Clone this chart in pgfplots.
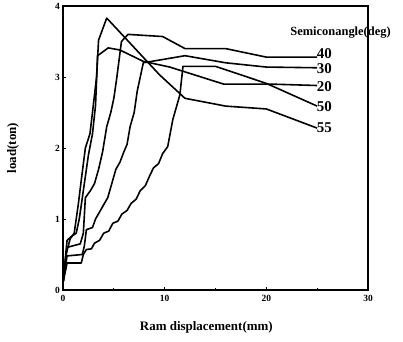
\documentclass[border=0pt]{standalone}
\usepackage{fontspec}
\setmainfont{Liberation Serif}
\usepackage{pgfplots}
\pgfplotsset{compat=1.18}
\begin{document}
\begin{tikzpicture}
\useasboundingbox (-63bp,-52bp) rectangle (340bp,290bp);
\begin{axis}[
  at={(0,0)}, anchor=south west,
  width=305bp, height=284bp, scale only axis,
  xmin=0, xmax=30, ymin=0, ymax=4,
  xtick={0,10,20,30}, ytick={0,1,2,3,4},
  minor xtick={5,15,25},
  xtick pos=bottom, ytick pos=left,
  tick align=inside,
  major tick length=3bp, minor tick length=2bp,
  line width=1.5pt,
  every tick/.style={black, line width=0.8pt},
  /pgf/number format/assume math mode=true,
  tick label style={font=\bfseries\fontsize{9.5}{10}\selectfont},
  xticklabel style={yshift=-1bp},
  yticklabel style={xshift=1bp},
  xlabel={\bfseries Ram displacement(mm)},
  ylabel={\bfseries load(ton)},
  label style={font=\bfseries\fontsize{13}{14}\selectfont},
  xlabel style={at={(axis description cs:0.47,0)}, anchor=center, yshift=-37bp},
  ylabel style={at={(axis description cs:0,0.5)}, anchor=center, yshift=50bp},
  clip=false,
  pl/.style={black, line width=1.6pt, line join=round, mark=none},
]
% 40
\addplot[pl] coordinates {(0,0.1)(0.4,0.6)(1.7,0.65)(2.0,0.8)(2.2,1.3)(2.7,1.4)(3.1,1.5)(3.5,1.7)(3.9,1.95)(4.3,2.3)(4.7,2.5)(5.0,2.7)(5.3,3.0)(5.75,3.5)(6.4,3.6)(9.8,3.57)(12,3.4)(16,3.4)(20,3.28)(25,3.28)};
% 30
\addplot[pl] coordinates {(0,0.1)(0.4,0.48)(1.9,0.5)(2.1,0.62)(2.3,0.85)(2.9,0.88)(3.2,1.0)(3.6,1.1)(4.0,1.2)(4.4,1.3)(4.8,1.5)(5.2,1.7)(5.6,1.8)(6.0,1.95)(6.3,2.05)(6.6,2.3)(7.0,2.5)(7.3,2.8)(7.9,3.2)(12,3.3)(16,3.2)(20,3.14)(25,3.13)};
% from 3.4 peak, ends at 2.88 (label 20)
\addplot[pl] coordinates {(0,0.1)(0.4,0.7)(0.8,0.75)(1.3,0.8)(1.6,1.0)(1.9,1.3)(2.2,1.6)(2.5,1.9)(2.9,2.2)(3.2,2.6)(3.4,3.3)(4.45,3.41)(5.6,3.38)(7.9,3.22)(10.5,3.14)(15.8,2.9)(20.4,2.9)(25,2.88)};
% rises at 12, ends at 2.59 (label 50)
\addplot[pl] coordinates {(0,0.1)(0.4,0.38)(1.8,0.38)(2.0,0.5)(2.3,0.57)(2.8,0.58)(3.1,0.66)(3.6,0.7)(4.0,0.8)(4.5,0.83)(4.9,0.94)(5.4,0.97)(5.8,1.07)(6.3,1.12)(6.7,1.22)(7.2,1.28)(7.6,1.4)(8.1,1.47)(8.5,1.6)(8.9,1.72)(9.4,1.78)(9.8,1.92)(10.3,2.02)(10.8,2.4)(11.5,2.75)(11.8,3.15)(15,3.15)(20,2.91)(25,2.59)};
% 55
\addplot[pl] coordinates {(0,0.1)(0.3,0.5)(0.7,0.72)(1.1,0.8)(1.5,1.2)(1.8,1.55)(2.2,2.0)(2.65,2.2)(2.9,2.5)(3.3,3.0)(3.5,3.52)(4.3,3.83)(9.5,3.03)(12,2.7)(16,2.59)(20,2.55)(25,2.28)};
\begin{scope}[every node/.style={font=\bfseries\fontsize{15}{16}\selectfont, anchor=west, inner sep=0pt}]
\node at (axis cs:24.9,3.33) {40};
\node at (axis cs:24.9,3.12) {30};
\node at (axis cs:24.9,2.87) {20};
\node at (axis cs:24.9,2.58) {50};
\node at (axis cs:24.9,2.28) {55};
\end{scope}
\node[font=\bfseries\fontsize{12.5}{14}\selectfont, inner sep=0pt] at (axis cs:27.3,3.63) {Semiconangle(deg)};
\end{axis}
\end{tikzpicture}
\end{document}
